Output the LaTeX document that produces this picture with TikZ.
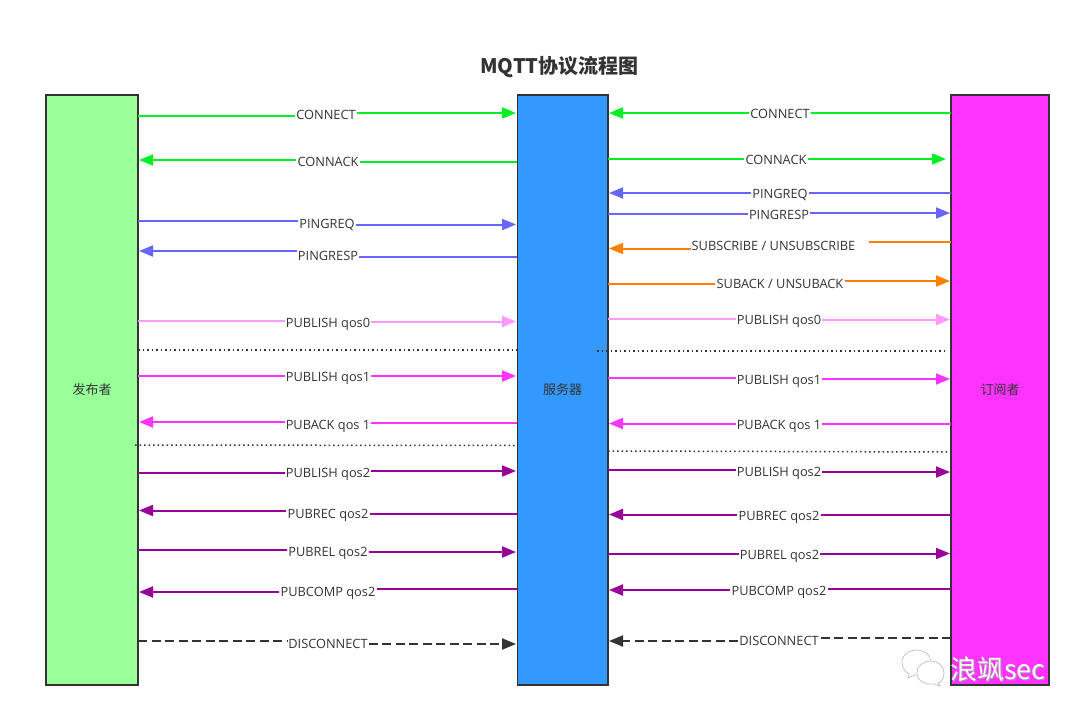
\documentclass[tikz,border=0pt]{standalone}
\usepackage{fontspec}
\setmainfont{Open Sans}
\newfontfamily\cjk{Noto Sans CJK SC}
\usetikzlibrary{arrows.meta}
\definecolor{cgreen}{HTML}{00F024}
\definecolor{cblue}{HTML}{6666FF}
\definecolor{corange}{HTML}{FF8000}
\definecolor{cpink}{HTML}{FF99FF}
\definecolor{cmag}{HTML}{FF33FF}
\definecolor{cpurple}{HTML}{990099}
\definecolor{cdark}{HTML}{333333}
\definecolor{cmint}{HTML}{99FF99}
\definecolor{csky}{HTML}{3399FF}
\tikzset{
  lane/.style={draw=cdark,line width=1.5pt,minimum height=590pt,inner sep=0pt,font=\cjk\fontsize{13}{15}\selectfont,text=cdark},
  lab/.style={inner sep=1pt,yshift=-0.5pt,text height=9.3pt,text depth=0pt,font=\fontsize{12.8}{15}\selectfont,text=cdark},
  msgline/.style={line width=2pt},
  tip/.style={-{Triangle[length=14pt,width=11pt]}},
  dash13/.style={dash pattern=on 9pt off 4.5pt},
  dots/.style={line width=1.5pt,black!80,dash pattern=on 1.5pt off 3pt}
}
\newcommand{\msgR}[9]{%
  \coordinate (#1s) at (#3,#4);\coordinate (#1e) at (#7,#8);
  \node[lab] (#1) at (#5,#6) {#9};
  \draw[msgline,#2] (#1s) -- (#1s -| #1.west);
  \draw[msgline,tip,#2] (#1e -| #1.east) -- (#1e);}
\newcommand{\msgL}[9]{%
  \coordinate (#1s) at (#3,#4);\coordinate (#1e) at (#7,#8);
  \node[lab] (#1) at (#5,#6) {#9};
  \draw[msgline,#2] (#1s) -- (#1s -| #1.east);
  \draw[msgline,tip,#2] (#1e -| #1.west) -- (#1e);}
\begin{document}
\begin{tikzpicture}[x=1pt,y=-1pt]
\useasboundingbox (0,0) rectangle (1080,716);
\node[font=\cjk\bfseries\fontsize{20}{24}\selectfont,text=cdark] (title) at (559.5,67) {MQTT协议流程图};
\node[lane,fill=cmint,minimum width=92pt] (pub) at (92,390) {发布者};
\node[lane,fill=csky,minimum width=90.5pt] (srv) at (562.5,390) {服务器};
\node[lane,fill=cmag,minimum width=98pt] (sub) at (1000,390) {订阅者};
% left side
\msgR{a1}{cgreen}{138}{115.5}{326}{114}{516}{113}{CONNECT}
\msgL{a2}{cgreen}{517}{161.5}{328}{161}{139}{160}{CONNACK}
\msgR{a3}{cblue}{138}{220.5}{327}{223}{516}{224.5}{PINGREQ}
\msgL{a4}{cblue}{517}{257}{328}{255}{139}{251}{PINGRESP}
\msgR{a5}{cpink}{138}{320.5}{328}{322}{516}{321.5}{PUBLISH qos0}
\coordinate (d1s) at (138,350);\coordinate (d1e) at (517,350);
\draw[dots] (d1s) -- (d1e);
\msgR{a6}{cmag}{138}{376}{328}{376}{516}{376}{PUBLISH qos1}
\msgL{a7}{cmag}{517}{423}{328}{424}{139}{422}{PUBACK qos 1}
\coordinate (d2s) at (135,445);\coordinate (d2e) at (517,445.5);
\draw[dots] (d2s) -- (d2e);
\msgR{a8}{cpurple}{138}{473}{328}{472}{516}{471}{PUBLISH qos2}
\msgL{a9}{cpurple}{517}{513.5}{328}{513}{139}{510.5}{PUBREC qos2}
\msgR{a10}{cpurple}{138}{550}{328}{551}{516}{552}{PUBREL qos2}
\msgL{a11}{cpurple}{517}{589}{328}{591}{139}{592}{PUBCOMP qos2}
\msgR{a12}{cdark,dash13}{138}{641}{328}{643}{516}{644}{DISCONNECT}
% right side
\msgL{b1}{cgreen}{951}{113}{780}{113}{609}{113}{CONNECT}
\msgR{b2}{cgreen}{608}{159}{776}{159}{946}{159}{CONNACK}
\msgL{b3}{cblue}{951}{193}{780}{193}{609}{193}{PINGREQ}
\msgR{b4}{cblue}{608}{214}{779}{214}{950}{213}{PINGRESP}
\coordinate (b5s) at (951,242);\coordinate (b5m) at (869,242);\coordinate (b5e) at (609,248.5);
\node[lab] (b5) at (773.5,245.5) {SUBSCRIBE / UNSUBSCRIBE};
\draw[msgline,corange] (b5s) -- (b5m);
\draw[msgline,tip,corange] (b5e -| b5.west) -- (b5e);
\msgR{b6}{corange}{608}{284}{780}{283}{950}{281}{SUBACK / UNSUBACK}
\msgR{b7}{cpink}{608}{318.5}{779}{319}{950}{319.5}{PUBLISH qos0}
\coordinate (d3s) at (597,351);\coordinate (d3e) at (945,351);
\draw[dots] (d3s) -- (d3e);
\msgR{b8}{cmag}{608}{378}{779}{379}{950}{379}{PUBLISH qos1}
\msgL{b9}{cmag}{951}{424}{779}{424}{609}{423.5}{PUBACK qos 1}
\coordinate (d4s) at (608,451);\coordinate (d4e) at (951,452);
\draw[dots] (d4s) -- (d4e);
\msgR{b10}{cpurple}{608}{470}{779}{471}{950}{472}{PUBLISH qos2}
\msgL{b11}{cpurple}{951}{514.5}{779}{515}{609}{514.5}{PUBREC qos2}
\msgR{b12}{cpurple}{608}{553.5}{779.5}{554}{950}{553.5}{PUBREL qos2}
\msgL{b13}{cpurple}{951}{589}{779}{590}{609}{590}{PUBCOMP qos2}
\msgL{b14}{cdark,dash13}{951}{638}{779}{640}{609}{641}{DISCONNECT}
% watermark
\begin{scope}[draw=black!25,fill=white,line width=.7pt]
\filldraw (902,662) .. controls (902,654) and (910,650) .. (916,650) .. controls (924,650) and (931,655) .. (931,662) .. controls (931,670) and (924,675) .. (915,675) -- (908,678) -- (909,674) .. controls (905,672) and (902,668) .. (902,662) -- cycle;
\filldraw (917,673) .. controls (917,665) and (924,661) .. (931,661) .. controls (938,661) and (944,666) .. (944,673) .. controls (944,679) and (941,682) .. (938,683) -- (940,686) -- (934,684) .. controls (925,685) and (917,681) .. (917,673) -- cycle;
\end{scope}
\node[inner sep=0pt,anchor=west,text=black!35,font=\cjk\fontsize{27}{30}\selectfont] (wmshadow) at (950.8,669.8) {浪飒sec};
\node[inner sep=0pt,anchor=west,text=white,font=\cjk\fontsize{27}{30}\selectfont] (wm) at (950,669) {浪飒sec};
\end{tikzpicture}
\end{document}
